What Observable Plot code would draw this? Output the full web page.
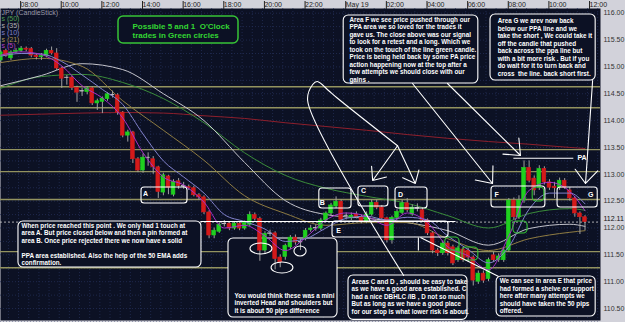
<!DOCTYPE html>
<html><head><meta charset="utf-8">
<script src="https://cdn.jsdelivr.net/npm/d3@7"></script>
<script src="https://cdn.jsdelivr.net/npm/@observablehq/plot@0.6"></script>
<style>
html,body{margin:0;padding:0;background:#0c1124;}
#chart svg text{white-space:pre;}
</style></head><body><div id="chart"></div>
<script>
// ---- time helper: candle index -> time (15 min candles, centre of bar) ----
const T0 = Date.UTC(2014, 4, 18, 7, 7, 30);
const t = i => new Date(T0 + i * 15 * 60000);

// ---- candles (15 min) ----
const open  = [115.12,115.30,115.16,115.28,115.30,115.34,115.33,115.21,115.18,115.20,115.30,115.25,114.97,114.79,114.80,114.61,114.54,114.53,114.60,114.32,114.35,114.40,114.48,114.47,114.15,113.72,113.78,113.28,113.07,113.31,113.28,113.13,112.66,112.96,112.62,112.87,112.78,112.76,112.74,112.61,112.57,112.29,111.86,111.93,112.07,112.08,111.99,112.08,111.99,112.06,112.24,112.17,111.58,111.89,111.90,111.45,111.46,111.64,111.82,111.73,111.80,111.96,111.99,111.99,112.14,112.27,112.40,112.49,112.22,112.18,112.25,112.20,112.12,112.25,112.47,112.38,112.18,111.77,112.19,112.28,112.46,112.25,112.37,112.33,112.14,111.90,111.58,111.53,111.71,111.64,111.40,111.60,111.58,111.45,111.00,111.15,111.05,111.49,111.40,111.40,111.58,112.51,112.20,112.51,113.12,112.92,112.75,113.10,112.85,112.77,112.75,112.88,112.70,112.55,112.27,112.20];
const high  = [115.30,115.33,115.30,115.34,115.38,115.37,115.36,115.24,115.25,115.33,115.37,115.34,115.00,114.84,114.83,114.64,114.60,114.63,114.63,114.40,114.44,114.52,114.55,114.50,114.17,113.82,113.80,113.31,113.38,113.40,113.33,113.15,113.02,112.98,112.90,112.92,112.85,112.80,112.78,112.64,112.60,112.32,112.00,112.10,112.14,112.12,112.12,112.11,112.13,112.30,112.28,112.20,111.93,111.96,111.93,111.50,111.70,111.86,111.87,111.79,111.99,112.05,112.06,112.18,112.30,112.46,112.58,112.52,112.28,112.28,112.30,112.24,112.30,112.52,112.52,112.42,112.20,112.22,112.34,112.52,112.55,112.43,112.45,112.37,112.17,111.93,111.62,111.76,111.75,111.68,111.66,111.64,111.62,111.48,111.20,111.20,111.44,111.55,111.52,111.62,112.55,112.56,112.60,113.25,113.25,112.97,113.16,113.14,112.90,112.85,112.93,112.92,112.75,112.58,112.30,112.23];
const low   = [115.08,115.18,115.12,115.25,115.27,115.28,115.17,115.13,115.12,115.17,115.22,114.93,114.60,114.66,114.56,114.34,114.45,114.48,114.28,114.19,114.13,114.36,114.42,114.10,113.68,113.60,113.20,113.03,113.02,113.15,113.00,112.55,112.60,112.62,112.58,112.72,112.72,112.70,112.58,112.52,112.25,111.80,111.80,111.90,112.02,111.95,111.96,111.95,111.96,112.03,112.13,111.38,111.52,111.84,111.22,111.26,111.40,111.60,111.68,111.58,111.76,111.92,111.94,111.95,112.10,112.22,112.36,112.10,112.15,112.14,112.17,112.08,112.08,112.22,112.34,112.14,111.72,111.70,112.15,112.25,112.29,112.22,112.30,112.10,111.86,111.52,111.47,111.49,111.48,111.30,111.36,111.36,111.36,110.92,110.95,110.97,111.00,111.36,111.36,111.36,111.55,112.15,112.16,112.46,112.84,112.60,112.70,112.80,112.70,112.55,112.70,112.72,112.50,112.20,111.88,111.95];
const close = [115.27,115.21,115.27,115.30,115.34,115.32,115.21,115.18,115.20,115.30,115.25,114.97,114.78,114.80,114.61,114.52,114.55,114.60,114.32,114.36,114.41,114.49,114.47,114.15,113.72,113.78,113.28,113.07,113.31,113.30,113.13,112.67,112.98,112.75,112.86,112.78,112.77,112.74,112.61,112.57,112.29,111.86,111.95,112.06,112.08,111.99,112.08,111.99,112.10,112.24,112.17,111.58,111.89,111.90,111.42,111.36,111.67,111.82,111.73,111.74,111.95,111.99,112.00,112.14,112.27,112.42,112.49,112.15,112.23,112.23,112.20,112.12,112.25,112.47,112.38,112.18,111.77,112.19,112.30,112.46,112.33,112.38,112.36,112.14,111.90,111.58,111.53,111.71,111.53,111.34,111.62,111.40,111.45,111.02,111.15,111.02,111.40,111.40,111.47,111.58,112.51,112.20,112.51,113.12,112.88,112.70,113.10,112.85,112.75,112.74,112.88,112.75,112.55,112.27,112.20,112.11];
const lastPrice = 112.11;

// ---- moving averages ----
const maIdx  = [0,8,16,24,32,40,48,56,64,72,80,88,96,104,112,115];
const emaRed = [114.10,114.12,114.14,114.15,114.14,114.09,114.04,113.96,113.89,113.82,113.74,113.67,113.61,113.56,113.50,113.48];
const ema50  = [114.60,114.82,114.86,114.71,114.41,113.96,113.40,112.98,112.74,112.59,112.46,112.23,112.00,112.27,112.36,112.33];
const ema35  = [114.65,114.84,115.06,114.95,114.50,114.00,113.22,112.51,112.25,112.18,112.10,111.95,111.68,111.99,112.07,112.03];
const ema21  = [115.08,115.16,115.01,114.37,113.82,113.26,112.60,112.27,112.05,112.10,112.10,111.80,111.58,111.80,111.92,111.95];
const shortIdx = [0,4,8,12,16,20,24,28,32,36,40,44,48,52,56,60,64,68,72,76,80,84,88,92,96,100,104,108,112,115];
const ema10  = [115.20,115.25,115.24,115.10,114.85,114.58,114.30,113.75,113.25,112.95,112.65,112.25,112.12,111.98,111.75,111.80,112.00,112.18,112.22,112.15,112.20,112.15,111.85,111.60,111.35,111.65,112.35,112.65,112.65,112.45];
const ema5   = [115.22,115.28,115.23,115.02,114.65,114.42,114.05,113.40,112.95,112.80,112.48,112.00,112.05,111.85,111.58,111.82,112.15,112.28,112.22,112.05,112.28,112.10,111.65,111.48,111.22,111.85,112.70,112.85,112.68,112.32];

// ---- drawn horizontal levels ----
const levels = [114.63, 114.24, 113.46, 113.05, 112.53, 111.56, 111.26];

// ---- axis labels ----
const topTickLabels = ["08:00","10:00","12:00","14:00","16:00","18:00","20:00","22:00","May 19","02:00","04:00","06:00","08:00","10:00","12:00"];
const yTicks = [110.5,111,111.5,112,112.5,113,113.5,114,114.5,115,115.5,116];
const legendText  = ["/JPY (CandleStick)", "s (50)", "s (35)", "s (10)", "s (21)", "s (5)"];
const legendColor = ["#9a9aa8", "#4f9f4f", "#b0b0b0", "#8080c8", "#a89050", "#b040c8"];

// ---- annotations (candle index, price) ----
const noteText = [
  "When price reached this point . We only had 1 touch at\narea A. But price closed below and then a pin formed at\narea B. Once price rejected there we now have a solid\n\u00a0\nPPA area established. Also the help of the 50 EMA adds\nconfirmation.",
  "You would think these was a mini\ninverted Head and shoulders but\nit is about 50 pips difference",
  "Areas C and D , should be easy to take\nas we have a good area established. C\nhad a nice DBHLC /IB , D not so much\nBut as long as we have a good place\nfor our stop is what lower risk is about.",
  "We can see in area E that price\nhad formed a shelve or support\nhere after many attempts we\nshould have taken the 50 pips\noffered.",
  "Area F we see price pushed through our\nPPA area we so loved for the trades it\ngave us. The close above was our signal\nto look for a retest and a long. Which we\ntook on the touch of the line green candle.\nPrice is being held back by some PA price\naction happening now at the top after a\nfew attempts we should close with our\ngains .",
  "Area G we arev now back\nbelow our PPA line and we\ntake the short , We could take it\noff the candle that pushed\nback across the ppa line but\nwith a bit more risk . But if you\ndo wait for it to turn back and\ncross  the line. back short first."
];
const noteAt  = [[4.07,111.697],[46.0,110.604],[69.04,110.724],[98.2,110.734],[68.64,115.324],[97.8,115.371]];
const noteBox = [[3.48,39.5,112.121,111.264],[44.82,66.28,111.805,110.333],[68.44,91.87,111.116,110.29],[97.6,117.1,111.097,110.352],[67.5,94.0,115.957,114.691],[96.4,117.1,115.976,114.747]];
const titleText = "Possible 5 and 1  O'Clock\ntrades in Green circles";
const titleAt  = [25.93, 115.676];
const titleBox = [23.17, 46.79, 115.939, 115.436];
const letters   = ["A","B","C","D","E","F","G"];
const letterAt  = [[28.5,112.642],[63.3,112.475],[71.4,112.698],[78.7,112.624],[66.5,111.953],[97.6,112.624],[116.1,112.624]];
const letterBox = [[27.7,36.75,112.754,112.456],[62.7,69.04,112.736,112.363],[70.4,76.3,112.773,112.40],[77.7,84.0,112.754,112.363],[65.3,88.13,112.121,111.823],[96.6,107.2,112.773,112.382],[109.6,117.5,112.754,112.382]];
const ellBox = [[49.15,53.48,111.712,111.507],[53.3,57.6,111.358,111.153],[57.8,60.2,111.656,111.469]];
const greenBox = [[87.5,90.3,111.823,111.581],[90.9,94.0,111.637,111.395],[100.9,103.7,112.121,111.898],[104.7,107.0,112.754,112.493]];
const arrowSegs = [[81.04,114.691,96.8,112.829],[87.93,114.691,102.3,113.35],[116.5,114.747,115.1,112.829],[78.1,113.531,73.2,112.885],[78.1,113.531,81.6,112.829]];
const lineSegs = [[98.0,111.097,82.6,111.823],[82.2,111.823,82.2,111.581],[39.3,112.121,89.5,112.121],[100.9,113.30,112.7,113.30]];
const loopPts = [[79.3,111.116],[60.4,114.374],[61.4,114.672],[62.3,114.728],[64.5,114.561],[66.1,114.43],[78.1,113.531]];
const paText = "PA", paAt = [113.5, 113.313];

// ---- derived tables ----
const BG = "#0c1124";
const idx = d3.range(open.length);
const colorOf = i => Math.abs(close[i] - open[i]) < 0.015 ? "#bdbdbd" : close[i] > open[i] ? "#1fd01f" : "#d41a1a";
const topTickTimes = topTickLabels.map((_, k) => new Date(Date.UTC(2014, 4, 18, 8) + k * 2 * 3600e3));
const topLabelOf = new Map(topTickTimes.map((d, k) => [+d, topTickLabels[k]]));
const series = (ix, vals) => ix.map((i, k) => ({x: t(i), y: vals[k]}));
const gridTimes = d3.range(-0.5, 118, 2).map(t);
const gridPrices = d3.range(110.25, 116.1, 0.25);
const rectOpts = {x1: d => t(d[0]), x2: d => t(d[1]), y1: d => d[2], y2: d => d[3]};
const font = "'Liberation Sans', Arial, sans-serif";

const maLine = (ix, vals, color) => Plot.line(series(ix, vals), {x: "x", y: "y", curve: "monotone-x", stroke: color, strokeWidth: 1});

const chart = Plot.plot({
  width: 625, height: 322,
  marginLeft: 0, marginRight: 25, marginTop: 8, marginBottom: 2,
  style: {background: "#d2d2da", fontFamily: font},
  x: {type: "utc", domain: [t(-0.06), t(118.05)], axis: null, label: null},
  y: {domain: [110.2775, 116.0875], axis: null, label: null},
  marks: [
    Plot.frame({fill: BG}),
    Plot.ruleX(gridTimes, {stroke: "#26325c", strokeOpacity: 0.7, strokeDasharray: "1,2"}),
    Plot.ruleY(gridPrices, {stroke: "#26325c", strokeOpacity: 0.7, strokeDasharray: "1,2"}),
    Plot.ruleY(levels, {stroke: "#93935f", strokeWidth: 1.4}),
    Plot.ruleY([lastPrice], {stroke: "#d0d0d0", strokeDasharray: "2,2", strokeWidth: 0.8}),
    maLine(maIdx, emaRed, "#8e1f2c"),
    Plot.rect(noteBox, {...rectOpts, fill: BG, stroke: "white", strokeWidth: 1.1, rx: 5, ry: 5}),
    Plot.rect([titleBox], {...rectOpts, fill: BG, stroke: "#37c437", strokeWidth: 1.5, rx: 5, ry: 5}),
    maLine(maIdx, ema50, "#3a8c3a"),
    maLine(maIdx, ema35, "#c4c4cc"),
    maLine(maIdx, ema21, "#8f7c42"),
    Plot.ruleX(idx, {x: t, y1: i => low[i], y2: i => high[i], stroke: "#a0a0a0", strokeWidth: 1}),
    Plot.rect(idx, {x1: i => t(i - 0.37), x2: i => t(i + 0.37), y1: i => open[i], y2: i => close[i], fill: colorOf, stroke: colorOf, strokeWidth: 0.6}),
    maLine(shortIdx, ema10, "#8282cc"),
    maLine(shortIdx, ema5, "#a832c8"),
    // annotations
    Plot.rect(letterBox, {...rectOpts, stroke: "white", strokeWidth: 1.1, rx: 3, ry: 3}),
    Plot.rect(ellBox, {...rectOpts, stroke: "white", strokeWidth: 1.1, rx: 40, ry: 40}),
    Plot.rect(greenBox, {...rectOpts, stroke: "#35c435", strokeWidth: 1.1, rx: 4, ry: 4}),
    Plot.link(lineSegs, {x1: d => t(d[0]), y1: d => d[1], x2: d => t(d[2]), y2: d => d[3], stroke: "white", strokeWidth: 1.1}),
    Plot.line(loopPts, {x: d => t(d[0]), y: d => d[1], curve: "catmull-rom", stroke: "white", strokeWidth: 1.1}),
    Plot.arrow(arrowSegs, {x1: d => t(d[0]), y1: d => d[1], x2: d => t(d[2]), y2: d => d[3], stroke: "white", strokeWidth: 1.1, headAngle: 80, headLength: 24}),
    Plot.text(letters, {x: (d, k) => t(letterAt[k][0]), y: (d, k) => letterAt[k][1], text: d => d, fill: "white", fontWeight: "bold", fontSize: 7}),
    Plot.text([paText], {x: t(paAt[0]), y: paAt[1], text: d => d, fill: "white", fontWeight: "bold", fontSize: 7, textAnchor: "start"}),
    Plot.text(noteText, {x: (d, k) => t(noteAt[k][0]), y: (d, k) => noteAt[k][1], text: d => d, fill: "white", fontWeight: "bold", fontSize: 6.3, lineHeight: 1.19, textAnchor: "start", lineAnchor: "middle"}),
    Plot.text([titleText], {x: t(titleAt[0]), y: titleAt[1], text: d => d, fill: "#33d633", fontWeight: "bold", fontSize: 8, lineHeight: 1.15, textAnchor: "start", lineAnchor: "middle"}),
    ...legendText.map((s, k) => Plot.text([s], {frameAnchor: "top-left", dx: k === 0 ? -1 : 1, dy: [4.3, 10.3, 17, 24.3, 31, 37.7][k], text: d => d, fill: legendColor[k], fontSize: 7, textAnchor: "start", lineAnchor: "middle"})),
    // axes
    Plot.axisX({anchor: "top", label: null, ticks: topTickTimes, tickFormat: d => topLabelOf.get(+d), tickSize: 8, tickPadding: -6.5, textAnchor: "start", dx: 2, fontSize: 7, color: "#222"}),
    Plot.axisY({anchor: "right", label: null, ticks: yTicks, tickFormat: d3.format(".2f"), tickSize: 0, tickPadding: 3, fontSize: 7, color: "#333"}),
    Plot.text([lastPrice], {y: d => d, frameAnchor: "right", dx: 3, dy: -3, text: d => d.toFixed(2), textAnchor: "start", fontSize: 7, fill: "#111"})
  ]
});
document.getElementById("chart").appendChild(chart);
</script>
</body></html>
